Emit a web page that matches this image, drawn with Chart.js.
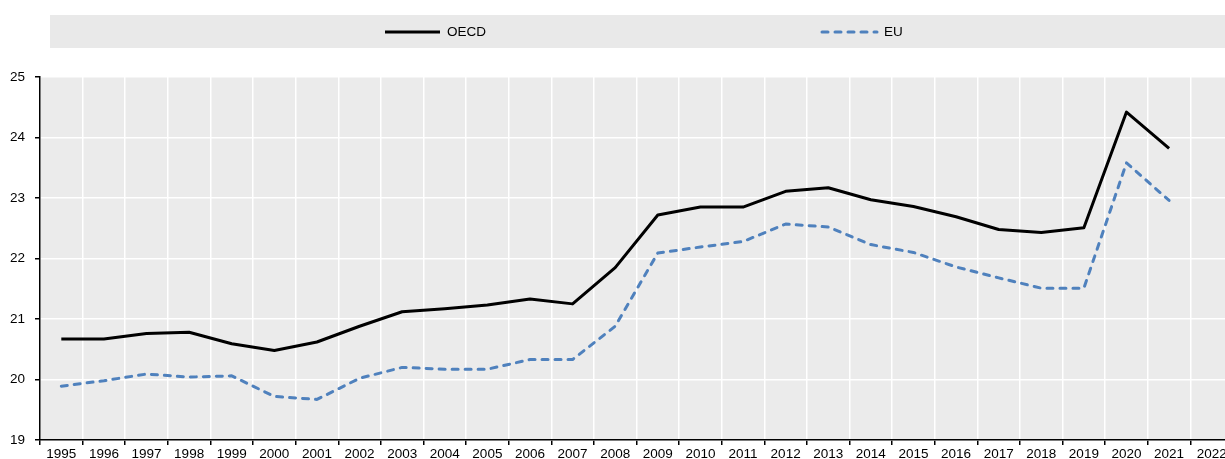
<!DOCTYPE html>
<html>
<head>
<meta charset="utf-8">
<script src="https://cdn.jsdelivr.net/npm/chart.js@4/dist/chart.umd.min.js"></script>
<style>
    html, body { margin: 0; padding: 0; overflow: hidden; background: #fff; }
    #wrap { width: 1233px; height: 459px; }
</style>
</head>
<body>
<div id="wrap"><canvas id="chart"></canvas></div>
<script>
// years on the x axis
const years = ['1995', '1996', '1997', '1998', '1999', '2000', '2001', '2002', '2003', '2004',
    '2005', '2006', '2007', '2008', '2009', '2010', '2011', '2012', '2013', '2014',
    '2015', '2016', '2017', '2018', '2019', '2020', '2021', '2022'];

// series values
const oecdValues = [20.67, 20.67, 20.76, 20.78, 20.59, 20.48, 20.62, 20.88, 21.12, 21.17,
    21.23, 21.33, 21.25, 21.85, 22.72, 22.85, 22.85, 23.11, 23.17, 22.97,
    22.86, 22.69, 22.48, 22.43, 22.51, 24.42, 23.82, null];
const euValues = [19.89, 19.98, 20.09, 20.04, 20.06, 19.72, 19.67, 20.02, 20.20, 20.17,
    20.17, 20.33, 20.33, 20.88, 22.09, 22.19, 22.28, 22.57, 22.52, 22.23,
    22.10, 21.86, 21.68, 21.51, 21.51, 23.58, 22.96, null];

// y axis range
const yMin = 19;
const yMax = 25;

const fontFamily = '"Liberation Sans", Arial, sans-serif';
const fontSize = 13.5;

//grey plot background
const plotBackground = {
    id: 'plotBackground',
    beforeDraw(chart) {
        const a = chart.chartArea;
        const c = chart.ctx;
        c.save();
        c.fillStyle = '#ebebeb';
        c.fillRect(a.left, a.top, a.right - a.left, a.bottom - a.top);
        c.restore();
    }
};

//legend in a grey band above the plot
const bandLegend = {
    id: 'bandLegend',
    afterDraw(chart) {
        const c = chart.ctx;
        const y = 32;
        const starts = [385, 822];
        c.save();
        c.fillStyle = '#e9e9e9';
        c.fillRect(50, 15, chart.width - 50, 33);
        chart.data.datasets.forEach(function (ds, i) {
            const x = starts[i];
            c.beginPath();
            c.strokeStyle = ds.borderColor;
            c.lineWidth = ds.borderWidth;
            c.lineCap = ds.borderCapStyle || 'butt';
            c.setLineDash(ds.borderDash || []);
            c.moveTo(x, y);
            c.lineTo(x + 55, y);
            c.stroke();
            c.setLineDash([]);
            c.fillStyle = '#000';
            c.font = fontSize + 'px ' + fontFamily;
            c.textBaseline = 'middle';
            c.fillText(ds.label, x + 62, y);
        });
        c.restore();
    }
};

new Chart(document.getElementById('chart'), {
    type: 'line',
    data: {
        labels: years,
        datasets: [{
            label: 'OECD',
            data: oecdValues,
            borderColor: '#000000',
            borderWidth: 3,
            borderJoinStyle: 'round',
            pointRadius: 0,
            tension: 0
        }, {
            label: 'EU',
            data: euValues,
            borderColor: '#4f81bd',
            borderWidth: 3,
            borderDash: [6, 7],
            borderCapStyle: 'round',
            borderJoinStyle: 'round',
            pointRadius: 0,
            tension: 0
        }]
    },
    options: {
        responsive: true,
        maintainAspectRatio: false,
        animation: false,
        layout: {
            padding: { top: 77, left: 0, right: 0, bottom: 0 }
        },
        plugins: {
            legend: { display: false },
            tooltip: { enabled: false }
        },
        scales: {
            x: {
                offset: true,
                grid: {
                    offset: true,
                    color: '#ffffff',
                    lineWidth: 1.5,
                    tickColor: '#000000',
                    tickLength: 5
                },
                border: { color: '#000000', width: 1.5 },
                ticks: {
                    autoSkip: false,
                    maxRotation: 0,
                    padding: 1,
                    color: '#000000',
                    font: { family: fontFamily, size: fontSize }
                },
                afterFit(s) { s.height = 19; }
            },
            y: {
                min: yMin,
                max: yMax,
                grid: {
                    color: '#ffffff',
                    lineWidth: 1.5,
                    tickColor: '#000000',
                    tickLength: 5
                },
                border: { color: '#000000', width: 1.5 },
                ticks: {
                    stepSize: 1,
                    padding: 10,
                    color: '#000000',
                    font: { family: fontFamily, size: fontSize }
                },
                afterFit(s) { s.width = 40; }
            }
        }
    },
    plugins: [plotBackground, bandLegend]
});
</script>
</body>
</html>
